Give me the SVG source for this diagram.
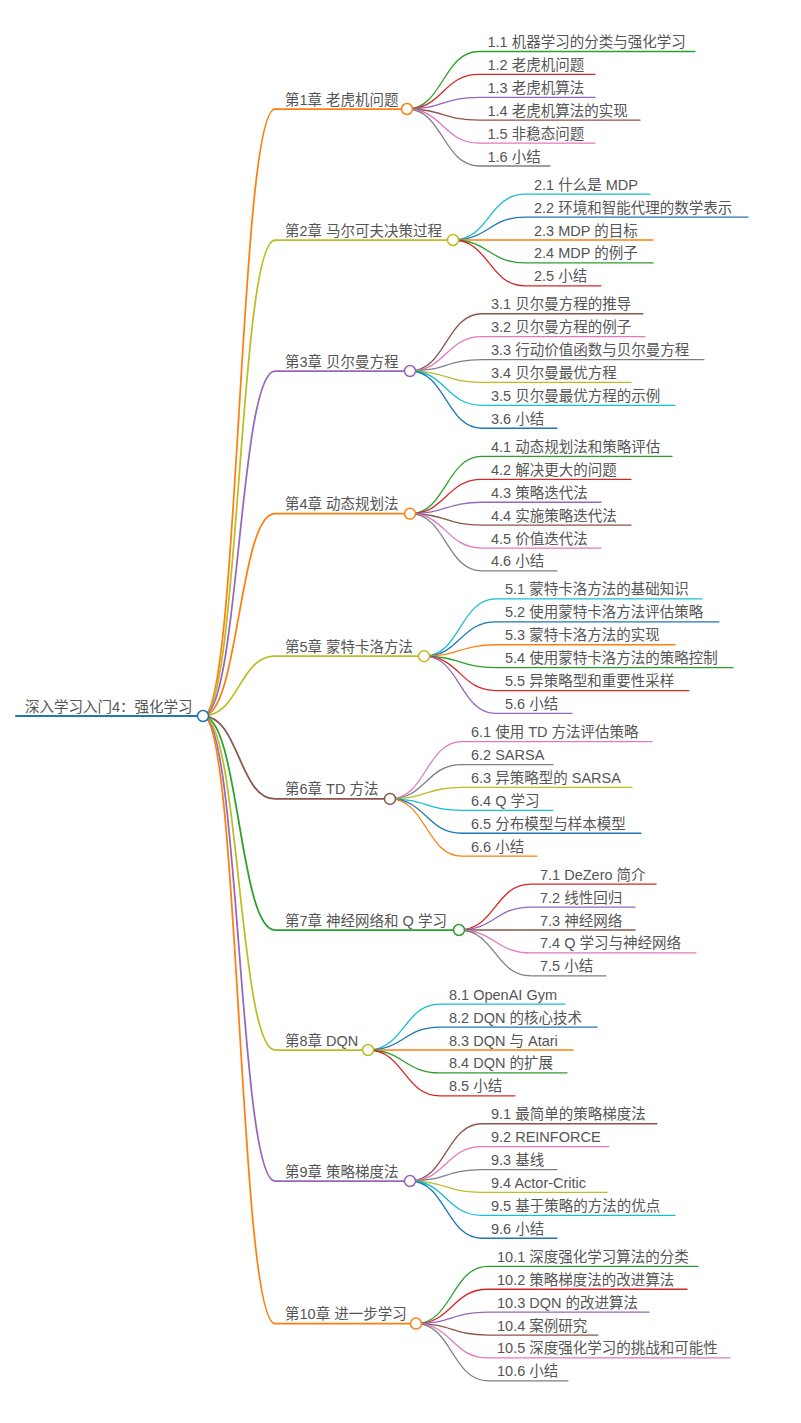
<svg xmlns="http://www.w3.org/2000/svg" width="801" height="1423" viewBox="0 0 801 1423">
<style>
text{font-family:"Liberation Sans","Noto Sans CJK SC",sans-serif;font-size:14.5px;fill:#555}
path{fill:none;stroke-linecap:round}
.l1{stroke-width:1.75}
.l2{stroke-width:1.3}
circle{fill:#fff;stroke-width:1.5}
.blue{stroke:#1f77b4}.orange{stroke:#ff7f0e}.green{stroke:#2ca02c}.red{stroke:#d62728}.purple{stroke:#9467bd}
.brown{stroke:#8c564b}.pink{stroke:#e377c2}.gray{stroke:#7f7f7f}.olive{stroke:#bcbd22}.cyan{stroke:#17becf}
</style>
<rect width="801" height="1423" fill="#fff"/>
<g id="connectors">
<path class="blue" stroke-width="2" d="M16,716 L203,716"/>
<path class="l1 orange" d="M203,716 C239,716 239,109 275,109 L407,109"/>
<path class="l1 olive" d="M203,716 C239,716 239,240 275,240 L453,240"/>
<path class="l1 purple" d="M203,716 C239,716 239,371 275,371 L410,371"/>
<path class="l1 orange" d="M203,716 C239,716 239,513.7 275,513.7 L410,513.7"/>
<path class="l1 olive" d="M203,716 C239,716 239,656.2 275,656.2 L424,656.2"/>
<path class="l1 brown" d="M203,716 C239,716 239,798.9 275,798.9 L390,798.9"/>
<path class="l1 green" d="M203,716 C239,716 239,930 275,930 L459,930"/>
<path class="l1 olive" d="M203,716 C239,716 239,1050 275,1050 L368,1050"/>
<path class="l1 purple" d="M203,716 C239,716 239,1181 275,1181 L410,1181"/>
<path class="l1 orange" d="M203,716 C239,716 239,1323.6 275,1323.6 L416,1323.6"/>

<path class="l2 green" d="M407,109 C443,109 443,51.5 479,51.5 L695,51.5"/>
<path class="l2 red" d="M407,109 C443,109 443,74.4 479,74.4 L595,74.4"/>
<path class="l2 purple" d="M407,109 C443,109 443,97.3 479,97.3 L595,97.3"/>
<path class="l2 brown" d="M407,109 C443,109 443,120.2 479,120.2 L640,120.2"/>
<path class="l2 pink" d="M407,109 C443,109 443,143.1 479,143.1 L595,143.1"/>
<path class="l2 gray" d="M407,109 C443,109 443,166 479,166 L550,166"/>

<path class="l2 cyan" d="M453,240 C489,240 489,194.2 525,194.2 L650,194.2"/>
<path class="l2 blue" d="M453,240 C489,240 489,217.1 525,217.1 L748,217.1"/>
<path class="l2 orange" d="M453,240 C489,240 489,240 525,240 L653,240"/>
<path class="l2 green" d="M453,240 C489,240 489,262.9 525,262.9 L653,262.9"/>
<path class="l2 red" d="M453,240 C489,240 489,285.8 525,285.8 L601,285.8"/>

<path class="l2 brown" d="M410,371 C446,371 446,313.75 482,313.75 L643,313.75"/>
<path class="l2 pink" d="M410,371 C446,371 446,336.65 482,336.65 L645,336.65"/>
<path class="l2 gray" d="M410,371 C446,371 446,359.55 482,359.55 L704,359.55"/>
<path class="l2 olive" d="M410,371 C446,371 446,382.45 482,382.45 L631,382.45"/>
<path class="l2 cyan" d="M410,371 C446,371 446,405.35 482,405.35 L675,405.35"/>
<path class="l2 blue" d="M410,371 C446,371 446,428.25 482,428.25 L557,428.25"/>

<path class="l2 green" d="M410,513.7 C446,513.7 446,456.45 482,456.45 L672,456.45"/>
<path class="l2 red" d="M410,513.7 C446,513.7 446,479.35 482,479.35 L631,479.35"/>
<path class="l2 purple" d="M410,513.7 C446,513.7 446,502.25 482,502.25 L601,502.25"/>
<path class="l2 brown" d="M410,513.7 C446,513.7 446,525.15 482,525.15 L631,525.15"/>
<path class="l2 pink" d="M410,513.7 C446,513.7 446,548.05 482,548.05 L601,548.05"/>
<path class="l2 gray" d="M410,513.7 C446,513.7 446,570.95 482,570.95 L557,570.95"/>

<path class="l2 cyan" d="M424,656.2 C460,656.2 460,598.95 496,598.95 L702,598.95"/>
<path class="l2 blue" d="M424,656.2 C460,656.2 460,621.85 496,621.85 L719,621.85"/>
<path class="l2 orange" d="M424,656.2 C460,656.2 460,644.75 496,644.75 L675,644.75"/>
<path class="l2 green" d="M424,656.2 C460,656.2 460,667.65 496,667.65 L733,667.65"/>
<path class="l2 red" d="M424,656.2 C460,656.2 460,690.55 496,690.55 L689,690.55"/>
<path class="l2 purple" d="M424,656.2 C460,656.2 460,713.45 496,713.45 L572,713.45"/>

<path class="l2 pink" d="M390,798.9 C426,798.9 426,741.65 462,741.65 L652,741.65"/>
<path class="l2 gray" d="M390,798.9 C426,798.9 426,764.55 462,764.55 L553,764.55"/>
<path class="l2 olive" d="M390,798.9 C426,798.9 426,787.45 462,787.45 L632,787.45"/>
<path class="l2 cyan" d="M390,798.9 C426,798.9 426,810.35 462,810.35 L553,810.35"/>
<path class="l2 blue" d="M390,798.9 C426,798.9 426,833.25 462,833.25 L641,833.25"/>
<path class="l2 orange" d="M390,798.9 C426,798.9 426,856.15 462,856.15 L537,856.15"/>

<path class="l2 red" d="M459,930 C495,930 495,884.2 531,884.2 L656,884.2"/>
<path class="l2 purple" d="M459,930 C495,930 495,907.1 531,907.1 L635,907.1"/>
<path class="l2 brown" d="M459,930 C495,930 495,930 531,930 L635,930"/>
<path class="l2 pink" d="M459,930 C495,930 495,952.9 531,952.9 L696,952.9"/>
<path class="l2 gray" d="M459,930 C495,930 495,975.8 531,975.8 L606,975.8"/>

<path class="l2 cyan" d="M368,1050 C404,1050 404,1004.2 440,1004.2 L565,1004.2"/>
<path class="l2 blue" d="M368,1050 C404,1050 404,1027.1 440,1027.1 L597,1027.1"/>
<path class="l2 orange" d="M368,1050 C404,1050 404,1050 440,1050 L573,1050"/>
<path class="l2 green" d="M368,1050 C404,1050 404,1072.9 440,1072.9 L567,1072.9"/>
<path class="l2 red" d="M368,1050 C404,1050 404,1095.8 440,1095.8 L515,1095.8"/>

<path class="l2 brown" d="M410,1181 C446,1181 446,1123.75 482,1123.75 L657,1123.75"/>
<path class="l2 pink" d="M410,1181 C446,1181 446,1146.65 482,1146.65 L609,1146.65"/>
<path class="l2 gray" d="M410,1181 C446,1181 446,1169.55 482,1169.55 L557,1169.55"/>
<path class="l2 olive" d="M410,1181 C446,1181 446,1192.45 482,1192.45 L607,1192.45"/>
<path class="l2 cyan" d="M410,1181 C446,1181 446,1215.35 482,1215.35 L675,1215.35"/>
<path class="l2 blue" d="M410,1181 C446,1181 446,1238.25 482,1238.25 L557,1238.25"/>

<path class="l2 green" d="M416,1323.6 C452,1323.6 452,1266.35 488,1266.35 L698,1266.35"/>
<path class="l2 red" d="M416,1323.6 C452,1323.6 452,1289.25 488,1289.25 L687,1289.25"/>
<path class="l2 purple" d="M416,1323.6 C452,1323.6 452,1312.15 488,1312.15 L649,1312.15"/>
<path class="l2 brown" d="M416,1323.6 C452,1323.6 452,1335.05 488,1335.05 L598,1335.05"/>
<path class="l2 pink" d="M416,1323.6 C452,1323.6 452,1357.95 488,1357.95 L730,1357.95"/>
<path class="l2 gray" d="M416,1323.6 C452,1323.6 452,1380.85 488,1380.85 L568,1380.85"/>
</g>

<g id="root"><text x="25" y="711.5">深入学习入门4：强化学习</text><circle class="blue" cx="203" cy="716" r="5.5"/></g>

<g id="ch1"><text x="285" y="104.5">第1章 老虎机问题</text><circle class="orange" cx="407" cy="109" r="5.5"/></g>
<g id="n1-1"><text x="487.5" y="47">1.1 机器学习的分类与强化学习</text></g>
<g id="n1-2"><text x="487.5" y="69.9">1.2 老虎机问题</text></g>
<g id="n1-3"><text x="487.5" y="92.8">1.3 老虎机算法</text></g>
<g id="n1-4"><text x="487.5" y="115.7">1.4 老虎机算法的实现</text></g>
<g id="n1-5"><text x="487.5" y="138.6">1.5 非稳态问题</text></g>
<g id="n1-6"><text x="487.5" y="161.5">1.6 小结</text></g>

<g id="ch2"><text x="285" y="235.5">第2章 马尔可夫决策过程</text><circle class="olive" cx="453" cy="240" r="5.5"/></g>
<g id="n2-1"><text x="534" y="189.7">2.1 什么是 MDP</text></g>
<g id="n2-2"><text x="534" y="212.6">2.2 环境和智能代理的数学表示</text></g>
<g id="n2-3"><text x="534" y="235.5">2.3 MDP 的目标</text></g>
<g id="n2-4"><text x="534" y="258.4">2.4 MDP 的例子</text></g>
<g id="n2-5"><text x="534" y="281.3">2.5 小结</text></g>

<g id="ch3"><text x="285" y="366.5">第3章 贝尔曼方程</text><circle class="purple" cx="410" cy="371" r="5.5"/></g>
<g id="n3-1"><text x="491" y="309.25">3.1 贝尔曼方程的推导</text></g>
<g id="n3-2"><text x="491" y="332.15">3.2 贝尔曼方程的例子</text></g>
<g id="n3-3"><text x="491" y="355.05">3.3 行动价值函数与贝尔曼方程</text></g>
<g id="n3-4"><text x="491" y="377.95">3.4 贝尔曼最优方程</text></g>
<g id="n3-5"><text x="491" y="400.85">3.5 贝尔曼最优方程的示例</text></g>
<g id="n3-6"><text x="491" y="423.75">3.6 小结</text></g>

<g id="ch4"><text x="285" y="509.2">第4章 动态规划法</text><circle class="orange" cx="410" cy="513.7" r="5.5"/></g>
<g id="n4-1"><text x="491" y="451.95">4.1 动态规划法和策略评估</text></g>
<g id="n4-2"><text x="491" y="474.85">4.2 解决更大的问题</text></g>
<g id="n4-3"><text x="491" y="497.75">4.3 策略迭代法</text></g>
<g id="n4-4"><text x="491" y="520.65">4.4 实施策略迭代法</text></g>
<g id="n4-5"><text x="491" y="543.55">4.5 价值迭代法</text></g>
<g id="n4-6"><text x="491" y="566.45">4.6 小结</text></g>

<g id="ch5"><text x="285" y="651.7">第5章 蒙特卡洛方法</text><circle class="olive" cx="424" cy="656.2" r="5.5"/></g>
<g id="n5-1"><text x="505" y="594.45">5.1 蒙特卡洛方法的基础知识</text></g>
<g id="n5-2"><text x="505" y="617.35">5.2 使用蒙特卡洛方法评估策略</text></g>
<g id="n5-3"><text x="505" y="640.25">5.3 蒙特卡洛方法的实现</text></g>
<g id="n5-4"><text x="505" y="663.15">5.4 使用蒙特卡洛方法的策略控制</text></g>
<g id="n5-5"><text x="505" y="686.05">5.5 异策略型和重要性采样</text></g>
<g id="n5-6"><text x="505" y="708.95">5.6 小结</text></g>

<g id="ch6"><text x="285" y="794.4">第6章 TD 方法</text><circle class="brown" cx="390" cy="798.9" r="5.5"/></g>
<g id="n6-1"><text x="471" y="737.15">6.1 使用 TD 方法评估策略</text></g>
<g id="n6-2"><text x="471" y="760.05">6.2 SARSA</text></g>
<g id="n6-3"><text x="471" y="782.95">6.3 异策略型的 SARSA</text></g>
<g id="n6-4"><text x="471" y="805.85">6.4 Q 学习</text></g>
<g id="n6-5"><text x="471" y="828.75">6.5 分布模型与样本模型</text></g>
<g id="n6-6"><text x="471" y="851.65">6.6 小结</text></g>

<g id="ch7"><text x="285" y="925.5">第7章 神经网络和 Q 学习</text><circle class="green" cx="459" cy="930" r="5.5"/></g>
<g id="n7-1"><text x="540" y="879.7">7.1 DeZero 简介</text></g>
<g id="n7-2"><text x="540" y="902.6">7.2 线性回归</text></g>
<g id="n7-3"><text x="540" y="925.5">7.3 神经网络</text></g>
<g id="n7-4"><text x="540" y="948.4">7.4 Q 学习与神经网络</text></g>
<g id="n7-5"><text x="540" y="971.3">7.5 小结</text></g>

<g id="ch8"><text x="285" y="1045.5">第8章 DQN</text><circle class="olive" cx="368" cy="1050" r="5.5"/></g>
<g id="n8-1"><text x="449" y="999.7">8.1 OpenAI Gym</text></g>
<g id="n8-2"><text x="449" y="1022.6">8.2 DQN 的核心技术</text></g>
<g id="n8-3"><text x="449" y="1045.5">8.3 DQN 与 Atari</text></g>
<g id="n8-4"><text x="449" y="1068.4">8.4 DQN 的扩展</text></g>
<g id="n8-5"><text x="449" y="1091.3">8.5 小结</text></g>

<g id="ch9"><text x="285" y="1176.5">第9章 策略梯度法</text><circle class="purple" cx="410" cy="1181" r="5.5"/></g>
<g id="n9-1"><text x="491" y="1119.25">9.1 最简单的策略梯度法</text></g>
<g id="n9-2"><text x="491" y="1142.15">9.2 REINFORCE</text></g>
<g id="n9-3"><text x="491" y="1165.05">9.3 基线</text></g>
<g id="n9-4"><text x="491" y="1187.95">9.4 Actor-Critic</text></g>
<g id="n9-5"><text x="491" y="1210.85">9.5 基于策略的方法的优点</text></g>
<g id="n9-6"><text x="491" y="1233.75">9.6 小结</text></g>

<g id="ch10"><text x="285" y="1319.1">第10章 进一步学习</text><circle class="orange" cx="416" cy="1323.6" r="5.5"/></g>
<g id="n10-1"><text x="497" y="1261.85">10.1 深度强化学习算法的分类</text></g>
<g id="n10-2"><text x="497" y="1284.75">10.2 策略梯度法的改进算法</text></g>
<g id="n10-3"><text x="497" y="1307.65">10.3 DQN 的改进算法</text></g>
<g id="n10-4"><text x="497" y="1330.55">10.4 案例研究</text></g>
<g id="n10-5"><text x="497" y="1353.45">10.5 深度强化学习的挑战和可能性</text></g>
<g id="n10-6"><text x="497" y="1376.35">10.6 小结</text></g>
</svg>
